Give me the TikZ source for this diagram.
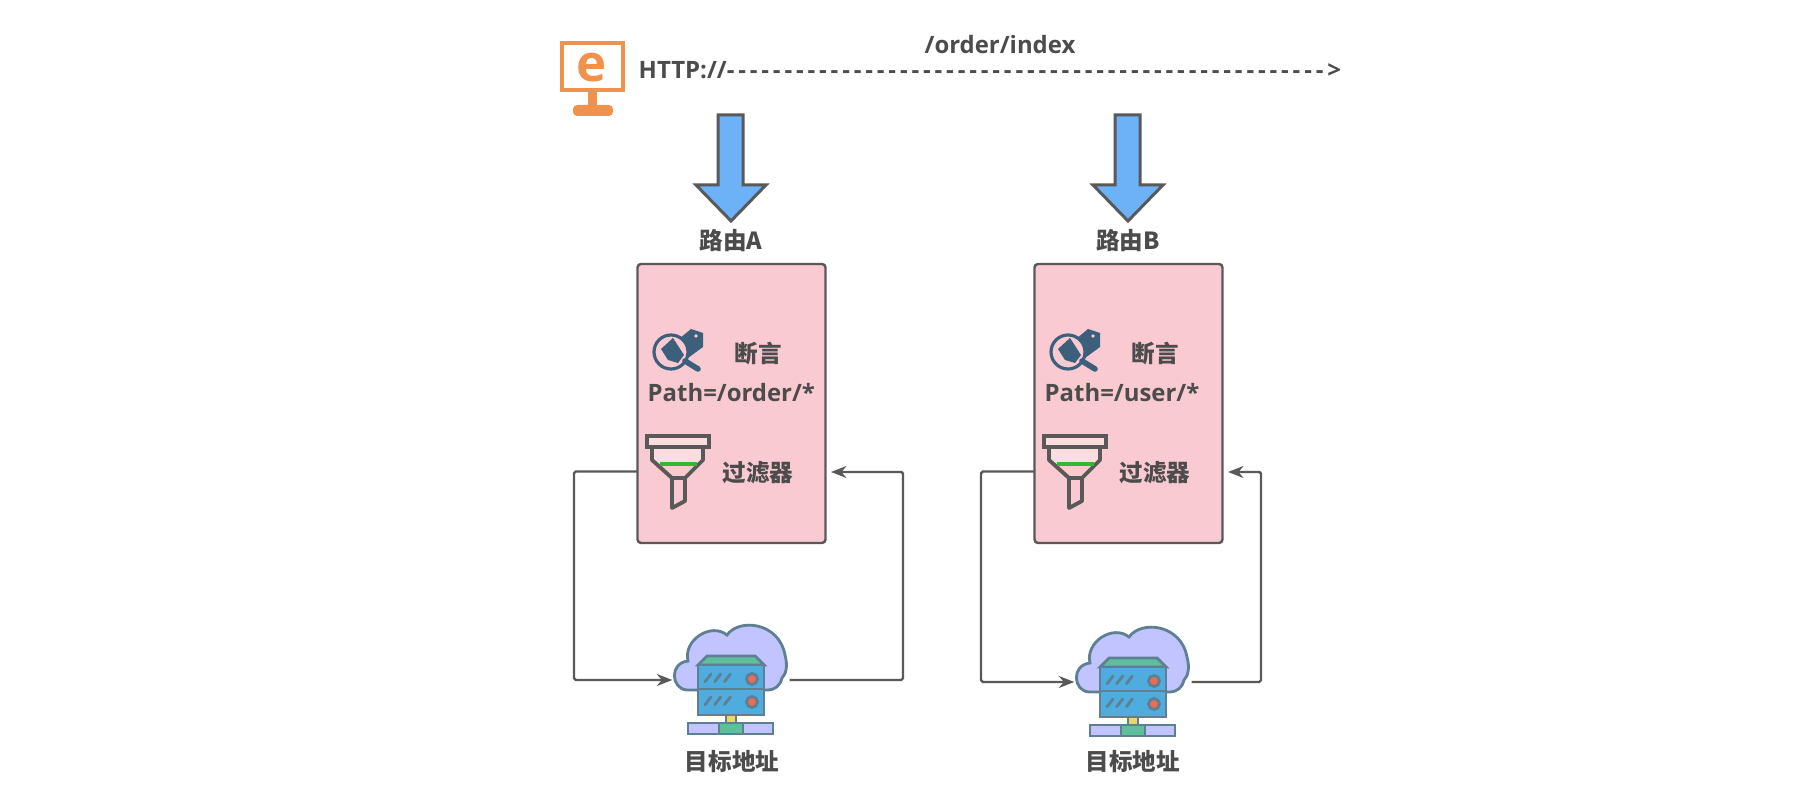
\documentclass[tikz,border=0pt]{standalone}
\usepackage{fontspec}
\usepackage{xcolor}
\usetikzlibrary{arrows.meta}
\setmainfont{Open Sans}
\newfontfamily\cjk{Noto Sans CJK SC}
\newfontfamily\dashfont[LetterSpace=16.1]{Open Sans}
\definecolor{c1}{HTML}{FACAD2}
\definecolor{c2}{HTML}{6DB1F7}
\definecolor{c3}{HTML}{F0924C}
\definecolor{c4}{HTML}{C2C4FF}
\definecolor{c5}{HTML}{4FACDF}
\definecolor{c6}{HTML}{5FBF9C}
\definecolor{c7}{HTML}{EE6B55}
\definecolor{c8}{HTML}{F2D36B}
\definecolor{c9}{HTML}{3C5F7C}
\definecolor{c10}{HTML}{5F7F92}
\definecolor{c11}{HTML}{595959}
\definecolor{c12}{HTML}{FBDDE0}
\tikzset{
  lbl/.style={text=c11!85!black, inner sep=0pt, font=\fontsize{6.8}{8}\selectfont\bfseries},
  cjklbl/.style={text=c11!85!black, inner sep=0pt, font=\fontsize{6.7}{8}\selectfont\cjk\bfseries},
  link/.style={c11, line width=0.7pt, rounded corners=0.5pt},
  tip/.style={-{Stealth[length=4.4pt,width=3.4pt]}},
  srv/.style={c10, line width=0.8pt}
}
\begin{document}
\begin{tikzpicture}[x=0.01cm,y=-0.01cm]
  \useasboundingbox (0,0) rectangle (1803,804);
  % Browser
  \draw[c3, line width=1.1pt] (562,43) rectangle (623,90);
  \fill[c3] (588,92) rectangle (597,106);
  \fill[c3, rounded corners=1.2pt] (573,105) rectangle (613,116);
  \node[text=c3, inner sep=0pt, font=\fontsize{14.5}{16}\selectfont\bfseries] (ie) at (592,68) {e};
  % Request line
  \node[lbl, anchor=west] (url) at (638,70) {HTTP://\dashfont\bfseries----------------------------------------------------\textbf{>}};
  \node[lbl] (req) at (1000,45) {/order/index};
  % Two routes
  \foreach \nm/\dx/\sx/\sy/\pth/\lx/\rx in {A/0/731/680/order/574/903,B/397/1133/682/user/981/1261}{
    \begin{scope}[shift={(\dx,0)}]
      \draw[fill=c2, draw=c11, line width=0.85pt, line join=miter]
        (718,115) -- (743,115) -- (743,185) -- (766,185) -- (731,221) -- (696,185) -- (718,185) -- cycle;
      \node[cjklbl] (route\nm) at (731,241) {路由\nm};
      \node[draw=c11, fill=c1, line width=0.7pt, rounded corners=1pt, inner sep=0pt,
        minimum width=188*0.01cm, minimum height=279*0.01cm] (box\nm) at (731.5,403.5) {};
      % Magnifier
      \fill[c9] (679,339) -- (691,329) -- (703,333) -- (703,347) -- (688,358) -- cycle;
      \fill[c1] (696,336) circle (1.8);
      \draw[c9, fill=c1, line width=0.9pt] (671,352) circle (17);
      \fill[c9] (661,349) -- (673,338) -- (684,355) -- (678,363) -- (668,360) -- cycle;
      \draw[c9, line width=1.6pt, line cap=round] (685,361) -- (698,369);
      \node[cjklbl] (pred\nm) at (758,354) {断言};
      \node[lbl, anchor=west] (path\nm) at (647,393) {Path=/\pth/*};
      % Funnel
      \fill[c12] (652,447) -- (703,447) -- (703,460) -- (697,464) -- (660,464) -- (652,460) -- cycle;
      \draw[c11, fill=c12, line width=1.1pt] (647,436) rectangle (709,447);
      \draw[c11, line width=1.1pt, line join=round]
        (652,447) -- (652,460) -- (672,478) -- (672,508) -- (685,501) -- (685,478) -- (703,460) -- (703,447);
      \draw[c11, line width=1.1pt] (672,478) -- (685,478);
      \draw[green!65!black!80!white, line width=1pt] (660,464) -- (697,464);
      \node[cjklbl] (flt\nm) at (758,473) {过滤器};
      \coordinate (out\nm) at (638,471.5);
      \coordinate (in\nm) at (831,472);
    \end{scope}
    % Server
    \begin{scope}[shift={(\sx,\sy)}]
      \draw[srv, fill=c4] (-44,10) .. controls (-60,9) and (-62,-17) .. (-43,-19)
        .. controls (-48,-40) and (-20,-58) .. (-4,-45)
        .. controls (8,-62) and (48,-58) .. (54,-25)
        .. controls (57,-14) and (55,-6) .. (51,-2)
        .. controls (49,6) and (44,10) .. (36,10) -- cycle;
      \draw[srv, fill=c6] (-33,-15) -- (-24,-24) -- (24,-24) -- (33,-15) -- cycle;
      \draw[srv, fill=c5] (-33,-15) rectangle (33,35);
      \draw[srv] (-33,9) -- (33,9);
      \foreach \r in {0,23}{
        \foreach \s in {0,9.7,19.4}{
          \draw[c10, line width=0.8pt, line cap=round] (-26+\s,1.7+\r) -- (-20+\s,-6+\r);
        }
        \draw[srv, fill=c7] (21,-1+\r) circle (5.5);
      }
      \draw[srv, fill=c8] (-5,35) rectangle (5,43);
      \draw[srv, fill=c4] (-43,43) rectangle (42,54);
      \draw[srv, fill=c6] (-12,43) rectangle (12,54);
      \node[inner sep=0pt, minimum width=116*0.01cm, minimum height=20*0.01cm] (srv\nm) at (0,0) {};
    \end{scope}
    \node[cjklbl] (dst\nm) at (732+\dx*1.01,762) {目标地址};
    % Links
    \draw[link, tip] (out\nm) -- (\lx,471.5) |- (srv\nm.west);
    \draw[link, tip] (srv\nm.east) -- (\rx,\sy) |- (in\nm);
  }
\end{tikzpicture}
\end{document}
